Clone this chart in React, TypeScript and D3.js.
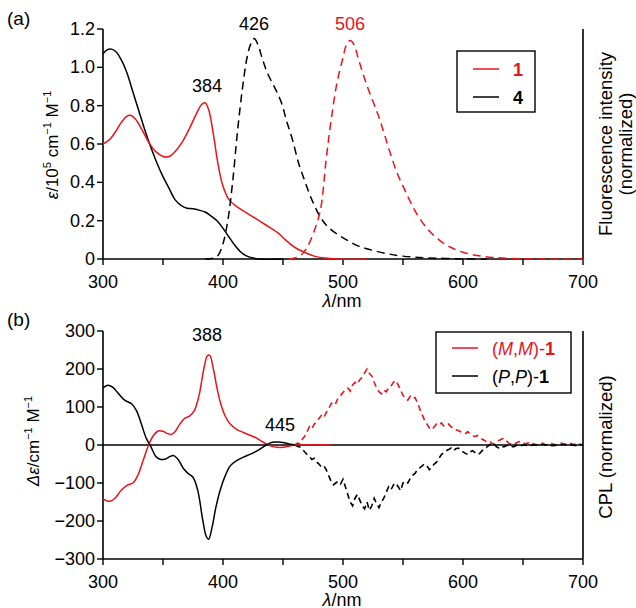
import React from "react";
import * as d3 from "d3";

type P = [number, number];

// Panel (a) absorption / fluorescence
const absRed1: P[] = [[300,0.60],[305,0.62],[310,0.66],[315,0.71],[320,0.745],[323,0.75],[327,0.73],[332,0.68],[338,0.61],[344,0.56],[350,0.535],[355,0.535],[360,0.56],[366,0.61],[372,0.68],[378,0.76],[382,0.805],[385,0.815],[388,0.78],[392,0.65],[396,0.49],[400,0.38],[405,0.31],[410,0.28],[416,0.255],[425,0.22],[435,0.18],[445,0.14],[452,0.10],[460,0.06],[468,0.035],[476,0.015],[485,0.005],[495,0.0],[520,0]];
const absBlack4: P[] = [[300,1.07],[303,1.09],[307,1.095],[311,1.08],[316,1.03],[320,0.97],[325,0.87],[330,0.77],[335,0.67],[340,0.58],[345,0.50],[350,0.43],[355,0.37],[360,0.31],[365,0.28],[370,0.265],[375,0.262],[380,0.255],[385,0.245],[390,0.225],[395,0.2],[400,0.16],[405,0.115],[410,0.07],[415,0.035],[420,0.015],[425,0.005],[430,0],[450,0]];
const flBlack4: P[] = [[385,0],[392,0.005],[396,0.02],[400,0.08],[404,0.2],[408,0.4],[412,0.66],[416,0.88],[420,1.05],[423,1.12],[426,1.15],[429,1.12],[433,1.04],[437,0.97],[441,0.92],[445,0.87],[449,0.81],[453,0.72],[458,0.62],[463,0.5],[468,0.41],[474,0.31],[481,0.22],[487,0.17],[495,0.13],[503,0.1],[512,0.07],[522,0.05],[535,0.03],[550,0.015],[570,0.006],[600,0.001],[620,0]];
const flRed1: P[] = [[455,0],[460,0.005],[465,0.02],[470,0.06],[475,0.13],[481,0.25],[486,0.52],[490,0.72],[495,0.92],[500,1.05],[503,1.12],[506,1.14],[509,1.12],[513,1.04],[517,0.96],[522,0.87],[527,0.79],[531,0.72],[535,0.64],[540,0.54],[545,0.45],[550,0.38],[556,0.3],[562,0.23],[570,0.16],[580,0.1],[590,0.06],[600,0.035],[612,0.018],[625,0.008],[640,0.003],[660,0.001],[700,0]];

// Panel (b) CD / CPL
const cdMM: P[] = [[300,-141],[303,-147],[306,-148],[310,-140],[315,-120],[320,-106],[325,-100],[329,-80],[333,-45],[338,0],[342,25],[346,37],[350,36],[354,30],[357,28],[360,35],[364,55],[368,70],[372,76],[376,90],[380,130],[384,200],[387,235],[389,236],[392,200],[395,150],[398,110],[402,75],[406,55],[411,42],[417,33],[423,25],[428,18],[432,10],[436,3],[440,-3],[445,-6],[450,-6],[455,-3],[460,0],[490,0]];
const cdPP: P[] = [[300,150],[304,157],[308,152],[313,135],[318,118],[324,108],[328,90],[332,55],[336,18],[340,-5],[344,-30],[348,-38],[352,-37],[356,-30],[359,-28],[363,-40],[367,-62],[371,-75],[375,-85],[379,-120],[383,-195],[386,-240],[388,-248],[391,-215],[394,-165],[398,-115],[402,-80],[406,-55],[411,-42],[417,-32],[423,-24],[428,-16],[432,-8],[436,0],[441,7],[446,8],[451,6],[456,2],[460,0]];
const cplMM: P[] = [[460,0],[462,5],[464,3],[466,15],[468,22],[470,35],[472,48],[474,42],[476,55],[478,62],[480,70],[482,78],[484,72],[486,85],[488,95],[490,108],[492,115],[494,110],[496,125],[498,130],[500,138],[502,145],[504,150],[506,142],[508,158],[510,165],[512,160],[514,172],[516,178],[518,190],[520,200],[522,188],[524,182],[526,165],[528,150],[530,140],[532,135],[534,145],[536,140],[538,150],[540,155],[542,165],[544,170],[546,158],[548,145],[550,130],[552,125],[554,118],[556,128],[558,122],[560,125],[562,112],[564,95],[566,80],[568,65],[570,55],[572,45],[574,40],[576,48],[578,55],[580,52],[582,58],[584,50],[586,52],[588,55],[590,48],[592,45],[594,40],[596,38],[598,35],[600,32],[602,30],[604,35],[606,28],[608,25],[610,22],[612,25],[614,20],[616,15],[618,12],[620,8],[622,10],[624,5],[626,2],[628,8],[630,12],[632,15],[634,18],[636,12],[638,5],[640,2],[642,0],[644,5],[646,8],[648,10],[650,6],[652,3],[654,5],[656,8],[658,4],[660,2],[662,0],[664,3],[666,5],[668,2],[670,0],[672,3],[674,4],[676,1],[678,0],[680,3],[682,5],[684,2],[686,0],[688,2],[690,4],[692,1],[694,3],[696,5],[698,2],[700,0]];
const cplPP: P[] = [[460,0],[462,-3],[464,-5],[466,-10],[468,-18],[470,-25],[472,-30],[474,-38],[476,-35],[478,-45],[480,-50],[482,-58],[484,-55],[486,-65],[488,-80],[490,-95],[492,-105],[494,-100],[496,-95],[498,-102],[500,-90],[502,-110],[504,-130],[506,-150],[508,-160],[510,-140],[512,-130],[514,-145],[516,-160],[518,-168],[520,-150],[522,-172],[524,-160],[526,-140],[528,-155],[530,-165],[532,-150],[534,-140],[536,-125],[538,-110],[540,-118],[542,-105],[544,-100],[546,-110],[548,-120],[550,-100],[552,-95],[554,-100],[556,-88],[558,-80],[560,-75],[562,-65],[564,-60],[566,-55],[568,-50],[570,-55],[572,-65],[574,-58],[576,-50],[578,-45],[580,-35],[582,-25],[584,-20],[586,-15],[588,-12],[590,-8],[592,-15],[594,-10],[596,-8],[598,-12],[600,-18],[602,-22],[604,-25],[606,-18],[608,-15],[610,-20],[612,-25],[614,-22],[616,-15],[618,-10],[620,-5],[622,0],[624,5],[626,2],[628,-5],[630,-8],[632,-3],[634,-5],[636,-2],[638,0],[640,-3],[642,-5],[644,-2],[646,0],[648,-2],[650,0],[655,-2],[660,0],[665,2],[670,0],[675,-2],[680,0],[685,2],[690,0],[695,-2],[700,0]];

const xTicksMajor = [300, 400, 500, 600, 700];
const xTicksMinor = [350, 450, 550, 650];
const yTicksA = [0, 0.2, 0.4, 0.6, 0.8, 1.0, 1.2];
const yTickLabelsA = ["0", "0.2", "0.4", "0.6", "0.8", "1.0", "1.2"];
const yTicksB = [-300, -200, -100, 0, 100, 200, 300];
const yTickLabelsB = ["\u2212300", "\u2212200", "\u2212100", "0", "100", "200", "300"];

const RED = "#e8141c";
const FONT = "'Liberation Sans', Arial, sans-serif";

export default function App() {
  const x = d3.scaleLinear().domain([300, 700]).range([103, 583]);
  const yA = d3.scaleLinear().domain([0, 1.2]).range([259, 29]);
  const yB = d3.scaleLinear().domain([-300, 300]).range([559, 331]);

  const lineA = d3.line<P>().x(d => x(d[0])).y(d => yA(d[1])).curve(d3.curveCatmullRom);
  const lineB = d3.line<P>().x(d => x(d[0])).y(d => yB(d[1])).curve(d3.curveCatmullRom);
  const lineBL = d3.line<P>().x(d => x(d[0])).y(d => yB(d[1]));

  const xAxis = (y0: number, labY: number) => (
    <g>
      <line x1={x(300)} x2={x(700)} y1={y0} y2={y0} stroke="#000" strokeWidth={1.6} />
      {[...xTicksMajor, ...xTicksMinor].map(t => (
        <line key={t} x1={x(t)} x2={x(t)} y1={y0} y2={y0 + 6} stroke="#000" strokeWidth={1.4} />
      ))}
      {xTicksMajor.map(t => (
        <text key={"l" + t} x={x(t)} y={labY} textAnchor="middle" fontSize={18}>{t}</text>
      ))}
    </g>
  );

  return (
    <svg width={636} height={608} style={{ position: "absolute", left: 0, top: 0, background: "#fff" }} fontFamily={FONT}>
      <rect width={636} height={608} fill="#fff" />
      {/* Panel (a) */}
      <text x={7} y={25} fontSize={19}>(a)</text>
      {xAxis(259, 288)}
      <line x1={103} x2={103} y1={yA(1.2)} y2={259} stroke="#000" strokeWidth={1.6} />
      <line x1={583} x2={583} y1={yA(1.2)} y2={259} stroke="#000" strokeWidth={1.6} />
      {yTicksA.map((t, i) => (
        <g key={t}>
          <line x1={97} x2={103} y1={yA(t)} y2={yA(t)} stroke="#000" strokeWidth={1.4} />
          <text x={95} y={yA(t) + 6} textAnchor="end" fontSize={18}>{yTickLabelsA[i]}</text>
        </g>
      ))}
      <text x={342} y={307} textAnchor="middle" fontSize={18}><tspan fontStyle="italic">λ</tspan>/nm</text>
      <text transform="translate(58,145) rotate(-90)" textAnchor="middle" fontSize={17}>
        <tspan fontStyle="italic">ε</tspan>/10<tspan fontSize={11} dy={-7}>5</tspan><tspan dy={7}> cm</tspan><tspan fontSize={11} dy={-7}>−1</tspan><tspan dy={7}> M</tspan><tspan fontSize={11} dy={-7}>−1</tspan>
      </text>
      <text transform="translate(612,144) rotate(-90)" textAnchor="middle" fontSize={18.5}>Fluorescence intensity</text>
      <text transform="translate(632,144) rotate(-90)" textAnchor="middle" fontSize={18.5}>(normalized)</text>

      <path d={lineA(absBlack4) || ""} fill="none" stroke="#000" strokeWidth={1.5} />
      <path d={lineA(absRed1) || ""} fill="none" stroke={RED} strokeWidth={1.5} />
      <path d={lineA(flBlack4) || ""} fill="none" stroke="#000" strokeWidth={1.5} strokeDasharray="8,5" />
      <path d={lineA(flRed1) || ""} fill="none" stroke={RED} strokeWidth={1.5} strokeDasharray="8,5" />

      <text x={207} y={92} textAnchor="middle" fontSize={18}>384</text>
      <text x={254} y={30} textAnchor="middle" fontSize={18}>426</text>
      <text x={350} y={30} textAnchor="middle" fontSize={18} fill={RED}>506</text>

      <rect x={457} y={51} width={78} height={61} fill="#fff" stroke="#000" strokeWidth={1.4} />
      <line x1={473} x2={499} y1={69} y2={69} stroke={RED} strokeWidth={1.5} />
      <line x1={473} x2={499} y1={97} y2={97} stroke="#000" strokeWidth={1.5} />
      <text x={513} y={76} fontSize={18} fontWeight="bold" fill={RED}>1</text>
      <text x={513} y={104} fontSize={18} fontWeight="bold">4</text>

      {/* Panel (b) */}
      <text x={7} y={326} fontSize={19}>(b)</text>
      {xAxis(559, 588)}
      <line x1={103} x2={103} y1={yB(300)} y2={559} stroke="#000" strokeWidth={1.6} />
      <line x1={583} x2={583} y1={yB(300)} y2={559} stroke="#000" strokeWidth={1.6} />
      {yTicksB.map((t, i) => (
        <g key={t}>
          <line x1={97} x2={103} y1={yB(t)} y2={yB(t)} stroke="#000" strokeWidth={1.4} />
          <text x={95} y={yB(t) + 6} textAnchor="end" fontSize={18}>{yTickLabelsB[i]}</text>
        </g>
      ))}
      <text x={342} y={606} textAnchor="middle" fontSize={18}><tspan fontStyle="italic">λ</tspan>/nm</text>
      <text transform="translate(39,441) rotate(-90)" textAnchor="middle" fontSize={17}>
        <tspan fontStyle="italic">Δε</tspan>/cm<tspan fontSize={11} dy={-7}>−1</tspan><tspan dy={7}> M</tspan><tspan fontSize={11} dy={-7}>−1</tspan>
      </text>
      <text transform="translate(612,447) rotate(-90)" textAnchor="middle" fontSize={18.5}>CPL (normalized)</text>

      <path d={lineBL(cplMM) || ""} fill="none" stroke={RED} strokeWidth={1.6} strokeDasharray="6,4" />
      <path d={lineBL(cplPP) || ""} fill="none" stroke="#000" strokeWidth={1.6} strokeDasharray="6,4" />
      <line x1={x(300)} x2={x(700)} y1={yB(0)} y2={yB(0)} stroke="#000" strokeWidth={1.6} />
      <path d={lineB(cdMM) || ""} fill="none" stroke={RED} strokeWidth={1.5} />
      <path d={lineB(cdPP) || ""} fill="none" stroke="#000" strokeWidth={1.5} />

      <text x={207} y={341} textAnchor="middle" fontSize={18}>388</text>
      <text x={280} y={431} textAnchor="middle" fontSize={18}>445</text>

      <rect x={436} y={332} width={135} height={61} fill="#fff" stroke="#000" strokeWidth={1.4} />
      <line x1={452} x2={478} y1={348} y2={348} stroke={RED} strokeWidth={1.5} />
      <line x1={452} x2={478} y1={376} y2={376} stroke="#000" strokeWidth={1.5} />
      <text x={492} y={355} fontSize={18} fill={RED}>(<tspan fontStyle="italic">M</tspan>,<tspan fontStyle="italic">M</tspan>)-<tspan fontWeight="bold">1</tspan></text>
      <text x={492} y={383} fontSize={18}>(<tspan fontStyle="italic">P</tspan>,<tspan fontStyle="italic">P</tspan>)-<tspan fontWeight="bold">1</tspan></text>
    </svg>
  );
}
